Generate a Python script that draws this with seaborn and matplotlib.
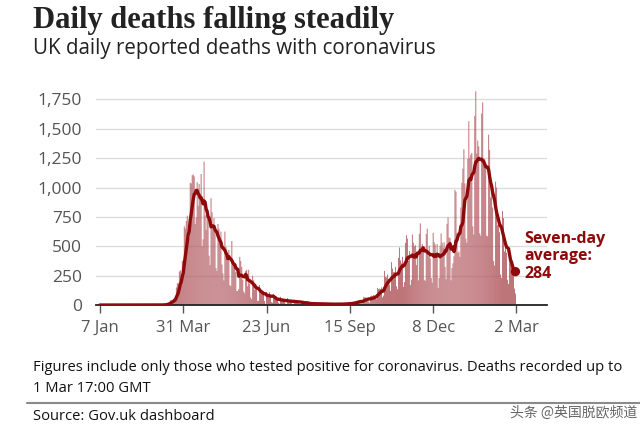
import numpy as np
import pandas as pd
import matplotlib.pyplot as plt
import seaborn as sns

# Daily reported deaths, 7 Jan 2020 - 1 Mar 2021
jan_2020 = [0] * 25
feb_2020 = [0] * 29
mar_2020 = [0, 0, 0, 0, 0, 1, 1, 0, 1, 2, 2, 2, 1, 10, 14, 20, 17, 40, 40, 35, 55, 50, 75, 150,
            185, 185, 285, 295, 215, 375, 385]
apr_2020 = [670, 650, 715, 760, 645, 570, 1040, 1035, 1105, 1110, 1095, 690, 745, 1045, 845,
            1030, 935, 1115, 500, 560, 1220, 765, 640, 770, 810, 420, 340, 910, 790, 675]
may_2020 = [740, 620, 315, 290, 690, 650, 540, 625, 345, 270, 210, 625, 495, 430, 385, 470,
            170, 160, 545, 365, 340, 350, 280, 120, 120, 135, 410, 375, 325, 215, 115]
jun_2020 = [100, 290, 300, 160, 300, 180, 65, 50, 250, 210, 130, 170, 150, 35, 35, 170, 130,
            100, 120, 90, 35, 12, 110, 100, 95, 110, 70, 25, 20, 95]
jul_2020 = [60, 55, 50, 45, 20, 12, 70, 55, 45, 40, 35, 12, 8, 60, 45, 40, 35, 30, 8, 6, 45,
            40, 35, 30, 25, 5, 4, 35, 30, 25, 20]
aug_2020 = [15, 5, 3, 20, 18, 15, 12, 10, 3, 2, 18, 16, 14, 11, 9, 3, 2, 14, 13, 12, 10, 8, 2,
            2, 12, 11, 10, 9, 7, 2, 1]
sep_2020 = [12, 10, 9, 8, 7, 2, 2, 15, 14, 12, 11, 10, 3, 3, 20, 20, 18, 20, 25, 15, 12, 35,
            35, 38, 40, 35, 15, 15, 70, 65]
oct_2020 = [65, 60, 55, 30, 20, 75, 80, 75, 85, 80, 65, 50, 145, 135, 140, 135, 150, 65, 80,
            290, 240, 235, 260, 195, 175, 120, 365, 310, 280, 275, 325]
nov_2020 = [160, 135, 400, 490, 380, 355, 410, 155, 195, 530, 595, 565, 375, 460, 170, 215,
            600, 530, 500, 510, 340, 400, 210, 605, 695, 500, 520, 480, 215, 205]
dec_2020 = [605, 650, 415, 505, 395, 230, 190, 615, 535, 515, 425, 520, 145, 230, 505, 610,
            530, 490, 535, 325, 220, 690, 745, 575, 570, 210, 315, 355, 415, 980, 965]
jan_2021 = [615, 445, 455, 410, 830, 1040, 1160, 1325, 1035, 565, 530, 1245, 1565, 1250, 1280,
            1295, 670, 600, 1610, 1820, 1290, 1400, 1350, 610, 590, 1630, 1725, 1240, 1245,
            1200, 590]
feb_2021 = [585, 1450, 1320, 915, 1015, 830, 375, 335, 1050, 1000, 680, 760, 620, 260, 230, 800,
            740, 455, 530, 445, 215, 180, 470, 400, 320, 300, 260, 140]
mar_2021 = [98]

tick_dates = ["2020-01-07", "2020-03-31", "2020-06-23", "2020-09-15", "2020-12-08", "2021-03-02"]
tick_labels = ["7 Jan", "31 Mar", "23 Jun", "15 Sep", "8 Dec", "2 Mar"]
y_ticks = [0, 250, 500, 750, 1000, 1250, 1500, 1750]

deaths = (jan_2020 + feb_2020 + mar_2020 + apr_2020 + may_2020 + jun_2020 + jul_2020 + aug_2020
          + sep_2020 + oct_2020 + nov_2020 + dec_2020 + jan_2021 + feb_2021 + mar_2021)
start = pd.Timestamp("2020-01-07")
df = pd.DataFrame({"day": np.arange(len(deaths)), "deaths": deaths})
df["avg"] = df["deaths"].rolling(7, min_periods=1).mean()

bar_col = "#c14e55"
line_col = "#8e0a0a"

sns.set_theme(style="white")
plt.rcParams["font.family"] = ["Open Sans", "DejaVu Sans"]

fig = plt.figure(figsize=(6.4, 4.37), dpi=100)
ax = fig.add_axes([0.15, 0.302, 0.705, 0.492])

sns.barplot(data=df, x="day", y="deaths", native_scale=True, color=bar_col, width=0.85,
            errorbar=None, edgecolor="none", linewidth=0, ax=ax, zorder=2)
# bars are under a pixel wide, so stop them snapping to zero width
for p in ax.patches:
    p.set_snap(False)
sns.lineplot(data=df, x="day", y="avg", color=line_col, lw=2.4, ax=ax, zorder=3)
last = df.iloc[[-1]]
sns.scatterplot(data=last, x="day", y="avg", color=line_col, s=45, edgecolor="none", ax=ax, zorder=4)

ax.set_xlim(-4, 451)
ax.set_ylim(0, 1830)
ax.set_yticks(y_ticks)
ax.set_yticklabels([f"{v:,}" for v in y_ticks])
tick_pos = [(pd.Timestamp(d) - start).days for d in tick_dates]
ax.set_xticks(tick_pos)
ax.set_xticklabels(tick_labels)
ax.set_xlabel("")
ax.set_ylabel("")
ax.grid(axis="y", color="#dcdcdc", lw=1, zorder=0)
ax.set_axisbelow(True)
for s in ["top", "right", "left"]:
    ax.spines[s].set_visible(False)
ax.spines["bottom"].set_color("#222222")
ax.spines["bottom"].set_linewidth(1.3)
ax.tick_params(axis="y", length=0, labelsize=12.5, labelcolor="#555555", pad=10)
ax.tick_params(axis="x", length=6, width=1, color="#555555", labelsize=12,
               labelcolor="#555555", direction="out", bottom=True, pad=5)

ax.text(last["day"].iloc[0] + 9, last["avg"].iloc[0] + 130,
        f"Seven-day\naverage:\n{last['avg'].iloc[0]:.0f}",
        color=line_col, fontsize=11.5, fontweight="bold", va="center", ha="left",
        linespacing=1.15)

fig.text(0.052, 0.952, "Daily deaths falling steadily", fontsize=22, fontweight="bold",
         family="Liberation Serif", color="#222222", va="center", ha="left")
fig.text(0.052, 0.890, "UK daily reported deaths with coronavirus", fontsize=14.8,
         color="#222222", va="center", ha="left")
fig.text(0.052, 0.158, "Figures include only those who tested positive for coronavirus. "
         "Deaths recorded up to", fontsize=10.65, color="#111111", va="center", ha="left")
fig.text(0.052, 0.112, "1 Mar 17:00 GMT", fontsize=10.65, color="#111111", va="center", ha="left")
fig.add_artist(plt.Line2D([0.042, 1.0], [0.078, 0.078], color="#8a8a8a", lw=1.5))
fig.text(0.052, 0.048, "Source: Gov.uk dashboard", fontsize=10.65, color="#111111",
         va="center", ha="left")
fig.text(0.995, 0.055, "头条 @英国脱欧频道", fontsize=10, color="#666666", va="center", ha="right",
         family=["Noto Sans CJK SC", "DejaVu Sans"])

fig.savefig("out.png", dpi=100)
